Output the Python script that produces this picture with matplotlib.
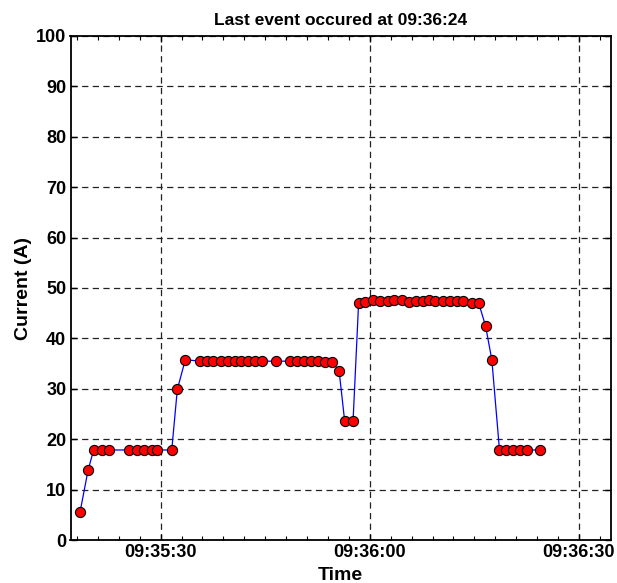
import matplotlib
matplotlib.use("Agg")
import matplotlib.pyplot as plt
import matplotlib.dates as mdates
import pandas as pd

plt.rcParams['font.family'] = ['Liberation Sans', 'DejaVu Sans']
plt.rcParams['font.weight'] = 'bold'

title_text = "Last event occured at 09:36:24"
x_label = "Time"
y_label = "Current (A)"

# seconds after 09:35:00
event_seconds = [18.45, 19.6, 20.4, 21.6, 22.6, 25.5, 26.6, 27.65, 28.7, 29.5,
                 31.6, 32.4, 33.55,
                 35.6, 36.6, 37.5, 38.6, 39.6, 40.65, 41.6, 42.6, 43.5, 44.5,
                 46.5, 48.5, 49.5, 50.5, 51.5, 52.6, 53.6, 54.6, 55.6, 56.4, 57.6,
                 58.4, 59.35, 60.4, 61.5, 62.6, 63.5, 64.6, 65.6, 66.6, 67.6,
                 68.5, 69.4, 70.5, 71.5, 72.5, 73.4, 74.6, 75.6, 76.6, 77.5,
                 78.6, 79.6, 80.5, 81.6, 82.5, 84.4]
current = [5.6, 13.9, 17.9, 17.9, 17.9, 17.9, 17.9, 17.9, 17.9, 17.9,
           17.9, 29.9, 35.8,
           35.5, 35.5, 35.5, 35.5, 35.5, 35.5, 35.5, 35.5, 35.5, 35.5,
           35.5, 35.5, 35.5, 35.5, 35.5, 35.5, 35.3, 35.3, 33.6, 23.6, 23.6,
           47.1, 47.3, 47.7, 47.4, 47.4, 47.7, 47.7, 47.3, 47.4, 47.4,
           47.7, 47.4, 47.4, 47.4, 47.4, 47.4, 47.1, 47.1, 42.5, 35.8,
           17.9, 17.9, 17.9, 17.9, 17.9, 17.9]
base_time = "2000-01-01 09:35:00"
x_start_sec = 17.08
x_end_sec = 94.55
y_ticks = list(range(0, 101, 10))

base = pd.Timestamp(base_time)
times = [base + pd.Timedelta(seconds=s) for s in event_seconds]

fig = plt.figure(figsize=(6.17, 5.83), dpi=100)
ax = fig.add_axes([70.5 / 617, (583 - 540.3) / 583, (610.7 - 70.5) / 617, (540.3 - 35.7) / 583])

ax.plot(times, current, color='#0000ff', linewidth=0.9, zorder=3,
        marker='o', markersize=7.3, markerfacecolor='#ff0000',
        markeredgecolor='black', markeredgewidth=0.8)

ax.set_xlim(base + pd.Timedelta(seconds=x_start_sec), base + pd.Timedelta(seconds=x_end_sec))
ax.set_ylim(0, 100)
ax.set_yticks(y_ticks)

ax.xaxis.set_major_locator(mdates.SecondLocator(bysecond=[0, 30]))
ax.xaxis.set_minor_locator(mdates.SecondLocator(bysecond=range(0, 60, 3)))
ax.xaxis.set_major_formatter(mdates.DateFormatter('%H:%M:%S'))

ax.grid(True, which='major', color='#222222', linestyle=(0, (5, 3.5)), linewidth=0.9)
ax.tick_params(axis='both', which='major', direction='in', length=4, width=1,
               top=True, right=True, labelsize=13)
ax.tick_params(axis='y', which='major', pad=3)
ax.tick_params(axis='x', which='major', pad=3)
ax.tick_params(axis='x', which='minor', direction='in', length=3, width=0.8,
               top=True, bottom=True)
for lab in ax.get_xticklabels() + ax.get_yticklabels():
    lab.set_fontweight('bold')
for sp in ax.spines.values():
    sp.set_linewidth(1.3)

ax.set_title(title_text, fontsize=12.5, fontweight='bold', pad=8)
ax.set_xlabel(x_label, fontsize=14, fontweight='bold', labelpad=4)
ax.set_ylabel(y_label, fontsize=14, fontweight='bold', labelpad=3)

fig.savefig("out.png", dpi=100)
